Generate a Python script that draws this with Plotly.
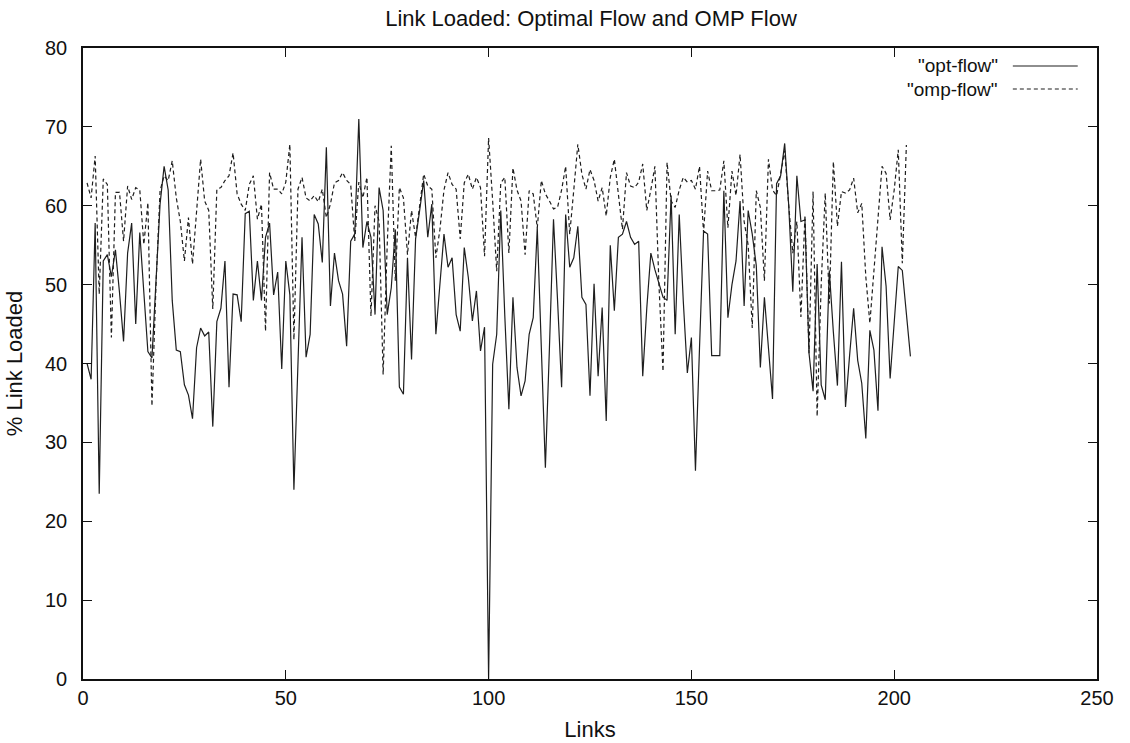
import plotly.graph_objects as go

opt_flow = [
    40, 38, 57.8, 23.5, 53, 53.8, 51, 54.4, 49, 42.8,
    54, 57.8, 45, 56.6, 49, 41.5, 40.7, 50, 60.2, 65,
    62, 48, 41.7, 41.5, 37.3, 36, 33, 42, 44.5, 43.5,
    44, 32, 45.3, 47, 53, 37, 48.8, 48.7, 45.3, 59,
    59.3, 48, 53, 48, 56, 57.8, 48.7, 51.6, 39.3, 53,
    48.7, 24, 40, 56, 40.8, 43.7, 58.9, 57.7, 52.8, 67.4,
    47.3, 54, 50.5, 48.8, 42.2, 55.5, 56.4, 71, 54.7, 58,
    56, 46.2, 62.3, 59.4, 46.2, 49.6, 57, 37, 36.1, 53.4,
    40.5, 55.8, 59.4, 63.2, 56, 60.2, 43.7, 49.6, 56.4, 52.2,
    53.4, 46.2, 44.1, 54.7, 50.9, 45.4, 49.2, 41.6, 44.6, 0,
    39.9, 43.7, 59.4, 46, 34.2, 48.4, 39.5, 35.9, 37.8, 43.7,
    45.8, 57.2, 42, 26.8, 42, 58.3, 48, 37, 58.9, 52.2,
    53.4, 57.4, 48.4, 47.5, 35.9, 50.1, 38.4, 47.1, 32.7, 55,
    46.7, 56, 56.4, 58, 56, 55.1, 55.5, 38.4, 47, 54,
    51.9, 50, 48.4, 48, 61.3, 43.7, 58.9, 47.9, 38.8, 43.3,
    26.4, 42, 56.8, 56.4, 41, 41, 41, 61.9, 45.8, 50,
    53, 60.6, 47.3, 59.4, 56.4, 52.4, 39.5, 48.4, 42, 35.5,
    62.8, 63.8, 67.9, 60, 49.1, 63.8, 58, 58.2, 41.3, 36.5,
    52.6, 37.3, 35.4, 51.8, 44, 37.2, 52.9, 34.5, 41, 47,
    40.4, 37.5, 30.5, 44.2, 41.7, 34, 54.8, 49.8, 38.1, 45,
    52.3, 51.8, 46, 40.9,
]

omp_flow = [
    62.9, 61, 66.3, 48.8, 63.4, 62.7, 43.3, 61.7, 61.7, 55.5,
    62.5, 60.8, 62.3, 62, 55.1, 60.4, 34.6, 50, 61.9, 63.8,
    63.2, 65.7, 61, 58, 53, 58.5, 52.6, 59.4, 65.9, 60.6,
    59.4, 46.9, 62.1, 62.3, 63.2, 63.8, 66.7, 61.5, 60.2, 59.4,
    62.7, 63.8, 58.3, 60.2, 44.1, 64.2, 62.1, 62.1, 61.5, 63,
    67.8, 43, 62.1, 63.6, 61, 60.6, 61.3, 60.5, 62.1, 58.5,
    60.2, 62.9, 63.2, 64.2, 63.2, 62.7, 55.5, 63, 61, 63.6,
    46, 60, 58, 38.6, 55, 67.6, 50.5, 62.3, 61, 53.8,
    59.4, 56, 60, 64, 62.5, 62.1, 53.4, 57, 62, 64.2,
    62.7, 62.1, 55.8, 62.9, 64, 62.1, 63.6, 62.3, 53.6, 68.6,
    60.6, 51.7, 62.9, 63.6, 54, 64.8, 62, 60.6, 53.8, 61.9,
    61.5, 57.2, 63.2, 61.5, 60.6, 59.6, 59.8, 62, 65, 56.4,
    62, 67.8, 64, 62.1, 64.6, 63.2, 60.6, 62.3, 58.7, 63.6,
    65.9, 61, 57, 64.2, 62.5, 62.3, 63, 65.3, 59.4, 62,
    65, 50, 39, 65.5, 60.6, 59.8, 62, 63.6, 63, 63.2,
    62.1, 65, 56.6, 64.4, 61.9, 61.9, 62, 65.7, 57.2, 64.4,
    61.3, 66.5, 58, 55, 44.5, 61.9, 59.8, 50.5, 65.9, 62,
    61.3, 64, 67, 60, 54, 58, 45.9, 58.8, 41.3, 61.8,
    33.3, 50, 61.6, 47.6, 65.6, 57.4, 61.8, 61.6, 62, 63.5,
    59.1, 60.3, 51, 45.1, 52, 58.2, 65, 64.1, 58.2, 62,
    67.1, 52.7, 67.7,
]

links_opt = list(range(1, len(opt_flow) + 1))
links_omp = list(range(1, len(omp_flow) + 1))

x_ticks = [0, 50, 100, 150, 200, 250]
y_ticks = [0, 10, 20, 30, 40, 50, 60, 70, 80]

FONT = "Liberation Sans, Arial, Helvetica, sans-serif"
TEXT_COLOR = "#111111"
LINE_COLOR = "#1e1e1e"
DASH = "4px,3px"

fig = go.Figure()
fig.add_trace(go.Scatter(
    x=links_opt, y=opt_flow, mode="lines", name='"opt-flow"',
    line=dict(color=LINE_COLOR, width=1.2), showlegend=False,
))
fig.add_trace(go.Scatter(
    x=links_omp, y=omp_flow, mode="lines", name='"omp-flow"',
    line=dict(color=LINE_COLOR, width=1.2, dash=DASH), showlegend=False,
))

# gnuplot-style key: text then line sample
legend_rows = [('"opt-flow"', "solid", 0.9715), ('"omp-flow"', DASH, 0.935)]
for label, dash, ypos in legend_rows:
    fig.add_annotation(
        x=0.903, y=ypos, xref="paper", yref="paper", text=label,
        showarrow=False, xanchor="right", yanchor="middle", borderpad=0,
        font=dict(family=FONT, size=19, color=TEXT_COLOR),
    )
    fig.add_shape(
        type="line", xref="paper", yref="paper",
        x0=0.917, x1=0.981, y0=ypos, y1=ypos,
        line=dict(color=LINE_COLOR, width=1.2, dash=dash),
    )

axis_common = dict(
    showgrid=False, zeroline=False, showline=True, linecolor=TEXT_COLOR,
    linewidth=1.6, mirror="ticks", ticks="inside", ticklen=9,
    tickcolor=TEXT_COLOR, tickwidth=1, automargin=False,
    tickfont=dict(family=FONT, size=20, color=TEXT_COLOR),
)

fig.update_layout(
    width=1130, height=743,
    margin=dict(l=83, r=33, t=48, b=64),
    paper_bgcolor="white", plot_bgcolor="white",
    title=dict(
        text="Link Loaded: Optimal Flow and OMP Flow",
        x=0.523, xanchor="center", y=0.976, yanchor="middle",
        font=dict(family=FONT, size=22, color=TEXT_COLOR),
    ),
    xaxis=dict(
        range=[0, 250], tickvals=x_ticks, ticktext=[str(v) for v in x_ticks],
        ticklabelstandoff=0,
        title=dict(text="Links", font=dict(family=FONT, size=22, color=TEXT_COLOR), standoff=14),
        **axis_common,
    ),
    yaxis=dict(
        range=[0, 80], tickvals=y_ticks, ticktext=[str(v) for v in y_ticks],
        ticklabelstandoff=10,
        title=dict(text="% Link Loaded", font=dict(family=FONT, size=22, color=TEXT_COLOR), standoff=16),
        **axis_common,
    ),
)

fig.write_html("out.html")
